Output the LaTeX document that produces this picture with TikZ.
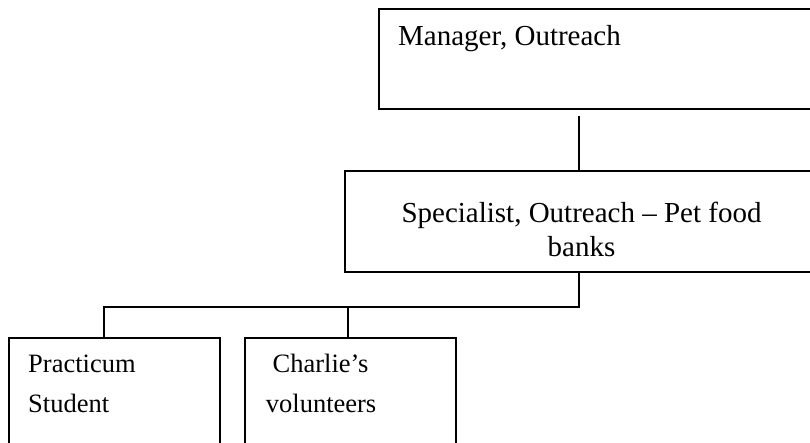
\documentclass[tikz,border=0pt]{standalone}
\usepackage{fontspec}
\setmainfont{Liberation Serif}
\begin{document}
\begin{tikzpicture}[x=1pt,y=-1pt,
  boxstyle/.style={draw=black,line width=1.8pt,rectangle,inner sep=0pt,anchor=north west},
  linkstyle/.style={draw=black,line width=1.4pt},
  bigtext/.style={inner sep=0pt,font=\fontsize{29}{33.5}\selectfont},
  smalltext/.style={inner sep=0pt,font=\fontsize{26.5}{39.5}\selectfont}]
\useasboundingbox (0,0) rectangle (810,443);
\clip (0,0) rectangle (810,443);
% boxes
\node[boxstyle,minimum width=470pt,minimum height=100pt] (mgr) at (378,8) {};
\node[boxstyle,minimum width=476pt,minimum height=101pt] (spec) at (344,170) {};
\node[boxstyle,minimum width=211pt,minimum height=140pt] (prac) at (8,337) {};
\node[boxstyle,minimum width=211pt,minimum height=140pt] (char) at (244,337) {};
% texts
\node[bigtext,anchor=base west] (mgrt) at (398,46) {Manager, Outreach};
\node[bigtext,anchor=base] (spect1) at (581.5,223) {Specialist, Outreach – Pet food};
\node[bigtext,anchor=base] (spect2) at (581.5,257) {banks};
\node[smalltext,anchor=base west] (pract1) at (28,372.7) {Practicum};
\node[smalltext,anchor=base west] (pract2) at (28,412) {Student};
\node[smalltext,anchor=base west] (chart1) at (272.5,372.7) {Charlie’s};
\node[smalltext,anchor=base west] (chart2) at (265.7,412) {volunteers};
% connector points
\coordinate (m1) at (579,116);
\coordinate (j) at (579,307);
\coordinate (jp) at (104,307);
\coordinate (jc) at (348,307);
% connectors
\draw[linkstyle] (m1) -- (m1 |- spec.north);
\draw[linkstyle] (j |- spec.south) -- (j) -- (jp) -- (jp |- prac.north);
\draw[linkstyle] (jc) -- (jc |- char.north);
\end{tikzpicture}
\end{document}
